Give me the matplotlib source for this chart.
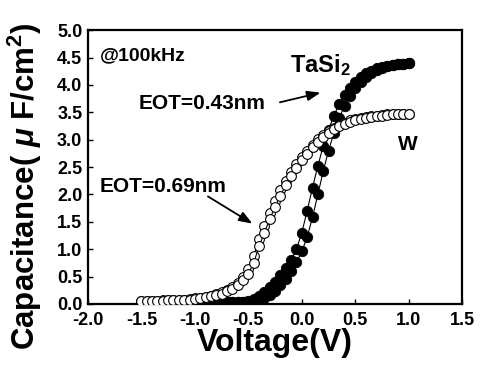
import numpy as np
import matplotlib
matplotlib.use("Agg")
import matplotlib.pyplot as plt
from matplotlib.ticker import FormatStrFormatter

# Fonts (Arial-like bold everywhere)
plt.rcParams['font.family'] = ['Liberation Sans', 'DejaVu Sans']
plt.rcParams['font.weight'] = 'bold'
plt.rcParams['mathtext.fontset'] = 'custom'
plt.rcParams['mathtext.rm'] = 'Liberation Sans:bold'
plt.rcParams['mathtext.it'] = 'Liberation Sans:italic:bold'
plt.rcParams['mathtext.bf'] = 'Liberation Sans:bold'

# W gate (open circles), 0.05 V steps, forward and reverse sweep
w_voltage = np.round(np.arange(-1.5, 1.0001, 0.05), 2)
w_cap_fwd = [0.05, 0.05, 0.06, 0.06, 0.06, 0.07, 0.07, 0.07, 0.08, 0.08,
             0.09, 0.10, 0.12, 0.14, 0.16, 0.19, 0.23, 0.28, 0.34, 0.44,
             0.55, 0.75, 1.05, 1.30, 1.55, 1.77, 1.98, 2.17, 2.33, 2.48,
             2.62, 2.74, 2.86, 2.96, 3.05, 3.13, 3.19, 3.25, 3.29, 3.33,
             3.36, 3.38, 3.40, 3.42, 3.43, 3.44, 3.45, 3.46, 3.46, 3.47,
             3.47]
w_cap_rev = [0.05, 0.05, 0.06, 0.06, 0.07, 0.07, 0.07, 0.08, 0.08, 0.09,
             0.10, 0.11, 0.13, 0.15, 0.18, 0.21, 0.26, 0.31, 0.39, 0.50,
             0.64, 0.88, 1.18, 1.43, 1.66, 1.88, 2.08, 2.25, 2.41, 2.55,
             2.68, 2.80, 2.91, 3.01, 3.09, 3.16, 3.22, 3.27, 3.31, 3.35,
             3.37, 3.39, 3.41, 3.43, 3.44, 3.45, 3.46, 3.46, 3.47, 3.47,
             3.47]

# TaSi2 gate (filled circles), two sweeps, 0.05 V steps
ta_voltage = np.round(np.arange(-1.0, 1.0001, 0.05), 2)
ta_cap_a = [0.03, 0.03, 0.03, 0.03, 0.03, 0.03, 0.03, 0.03, 0.03, 0.03,
            0.05, 0.09, 0.14, 0.21, 0.30, 0.40, 0.52, 0.65, 0.80, 1.00,
            1.30, 1.70, 2.12, 2.52, 2.88, 3.18, 3.44, 3.65, 3.82, 3.95,
            4.06, 4.14, 4.21, 4.26, 4.30, 4.33, 4.35, 4.37, 4.38, 4.39,
            4.40]
ta_cap_b = [0.03, 0.03, 0.03, 0.03, 0.03, 0.03, 0.03, 0.03, 0.03, 0.03,
            0.03, 0.03, 0.06, 0.10, 0.16, 0.24, 0.34, 0.46, 0.60, 0.76,
            0.96, 1.22, 1.58, 2.00, 2.42, 2.80, 3.12, 3.40, 3.62, 3.80,
            3.94, 4.05, 4.14, 4.21, 4.27, 4.31, 4.34, 4.36, 4.38, 4.39,
            4.40]

fig = plt.figure(figsize=(4.83, 3.72), dpi=100)
ax = fig.add_axes([0.182, 0.183, 0.775, 0.736])

for cap in (ta_cap_a, ta_cap_b):
    ax.plot(ta_voltage, cap, color='black', linewidth=0.8,
            marker='o', markersize=7.5, markerfacecolor='black',
            markeredgecolor='black', markeredgewidth=0.6, zorder=3)

for cap in (w_cap_rev, w_cap_fwd):
    ax.plot(w_voltage, cap, color='black', linewidth=0.8,
            marker='o', markersize=7, markerfacecolor='white',
            markeredgecolor='black', markeredgewidth=0.8, zorder=4)

ax.set_xlim(-2.0, 1.5)
ax.set_ylim(0.0, 5.0)
ax.set_xticks(np.arange(-2.0, 1.51, 0.5))
ax.set_yticks(np.arange(0.0, 5.01, 0.5))
ax.xaxis.set_major_formatter(FormatStrFormatter('%.1f'))
ax.yaxis.set_major_formatter(FormatStrFormatter('%.1f'))
ax.tick_params(direction='in', length=3.5, width=1, labelsize=13)
ax.tick_params(axis='x', pad=6)
ax.tick_params(axis='y', pad=4)
for sp in ax.spines.values():
    sp.set_linewidth(1.6)

ax.set_xlabel('Voltage(V)', fontsize=23, fontweight='bold', labelpad=-1)
ax.set_ylabel(r'Capacitance( $\mu$ F/cm$^2$)', fontsize=22.5,
              fontweight='bold')
ax.yaxis.set_label_coords(-0.118, 0.43)

ax.text(-1.89, 4.45, '@100kHz', fontsize=14, fontweight='bold',
        va='baseline', ha='left')
ax.text(-0.11, 4.23, r'TaSi$_2$', fontsize=17, fontweight='bold',
        va='baseline', ha='left')
ax.text(0.90, 2.81, 'W', fontsize=15, fontweight='bold',
        va='baseline', ha='left')
ax.text(-1.53, 3.56, 'EOT=0.43nm', fontsize=15, fontweight='bold',
        va='baseline', ha='left')
ax.text(-1.89, 2.04, 'EOT=0.69nm', fontsize=15, fontweight='bold',
        va='baseline', ha='left')

arrow = dict(arrowstyle='-|>,head_length=0.8,head_width=0.3',
             color='black', linewidth=1.3)
ax.annotate('', xy=(0.20, 3.87), xytext=(-0.23, 3.67), arrowprops=arrow)
ax.annotate('', xy=(-0.44, 1.44), xytext=(-0.90, 1.99), arrowprops=arrow)

for lab in ax.get_xticklabels() + ax.get_yticklabels():
    lab.set_fontweight('bold')

fig.savefig('out.png', dpi=100)
